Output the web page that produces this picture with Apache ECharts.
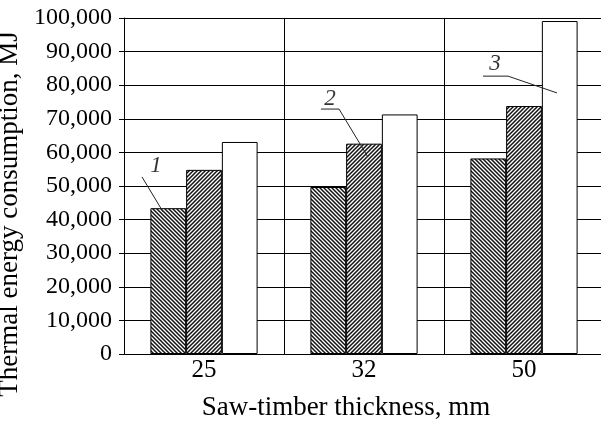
<!DOCTYPE html>
<html><head><meta charset="utf-8">
<script src="https://cdn.jsdelivr.net/npm/echarts@6/dist/echarts.min.js"></script>
<style>html,body{margin:0;padding:0;background:#fff}#c{width:601px;height:421px}</style>
</head><body><div id="c"></div>
<script>
const categories = ['25', '32', '50'];
const series1 = [43400, 49700, 58200];
const series2 = [54800, 62600, 73800];
const series3 = [63100, 71300, 99100];
const yTicks = [0, 10000, 20000, 30000, 40000, 50000, 60000, 70000, 80000, 90000, 100000];
// leader lines for annotations (x in category units 0..3, y in MJ)
const ann1 = [[0.1125, 52700], [0.244, 42300]];
const ann2 = [[1.231, 72900], [1.344, 72900], [1.525, 58600]];
const ann3 = [[2.244, 82700], [2.400, 82700], [2.706, 77700]];
const annLabels = [['1', 0.200, 56000], ['2', 1.2875, 75800], ['3', 2.319, 86300]];

function hatch(dir) {
  const s = 4, c = document.createElement('canvas');
  c.width = s; c.height = s;
  const g = c.getContext('2d');
  g.fillStyle = '#fff'; g.fillRect(0, 0, s, s);
  g.strokeStyle = '#111'; g.lineWidth = 1.5;
  g.beginPath();
  if (dir > 0) { // "\"
    g.moveTo(-1, -1); g.lineTo(s + 1, s + 1);
    g.moveTo(-1, s - 1); g.lineTo(1, s + 1);
    g.moveTo(s - 1, -1); g.lineTo(s + 1, 1);
  } else { // "/"
    g.moveTo(-1, s + 1); g.lineTo(s + 1, -1);
    g.moveTo(-1, 1); g.lineTo(1, -1);
    g.moveTo(s - 1, s + 1); g.lineTo(s + 1, s - 1);
  }
  g.stroke();
  return c;
}

const font = 'Liberation Serif';
function draw() {
const chart = echarts.init(document.getElementById('c'), null, {renderer: 'canvas'});
const lineSeries = (d) => ({
  type: 'line', xAxisIndex: 1, data: d, symbol: 'none', silent: true,
  lineStyle: {color: '#222', width: 1}, z: 10, animation: false
});
chart.setOption({
  animation: false,
  grid: {left: 124, right: -3, top: 18, bottom: 67, outerBoundsMode: 'none', containLabel: false},
  xAxis: [{
    type: 'category', data: categories,
    name: 'Saw-timber thickness, mm', nameLocation: 'middle', nameGap: 40,
    nameTextStyle: {fontFamily: font, fontSize: 27, color: '#000', padding: [0, 36, 0, 0]},
    axisLine: {lineStyle: {color: '#000', width: 1}},
    axisTick: {show: false},
    axisLabel: {fontFamily: font, fontSize: 25, color: '#000', margin: 4},
    splitLine: {show: true, lineStyle: {color: '#000', width: 1}}
  }, {
    type: 'value', min: 0, max: 3, show: false
  }],
  yAxis: {
    type: 'value', min: 0, max: 100000, interval: 10000,
    name: 'Thermal energy consumption, MJ', nameLocation: 'middle', nameGap: 91,
    nameTextStyle: {fontFamily: font, fontSize: 27, color: '#000', padding: [0, 56, 0, 0]},
    axisLine: {show: true, lineStyle: {color: '#000', width: 1}},
    axisTick: {show: true, length: 5, lineStyle: {color: '#000'}},
    axisLabel: {fontFamily: font, fontSize: 24, color: '#000', margin: 12,
      formatter: v => yTicks.includes(v) ? v.toLocaleString('en-US') : ''},
    splitLine: {show: true, lineStyle: {color: '#000', width: 1}}
  },
  series: [
    {type: 'bar', data: series1, barGap: '0%', barCategoryGap: '33%',
      itemStyle: {color: {image: hatch(1), repeat: 'repeat'}, borderColor: '#000', borderWidth: 1}},
    {type: 'bar', data: series2, barGap: '0%', barCategoryGap: '33%',
      itemStyle: {color: {image: hatch(-1), repeat: 'repeat'}, borderColor: '#000', borderWidth: 1}},
    {type: 'bar', data: series3, barGap: '0%', barCategoryGap: '33%',
      itemStyle: {color: '#fff', borderColor: '#000', borderWidth: 1}},
    lineSeries(ann1), lineSeries(ann2), lineSeries(ann3),
    {type: 'scatter', xAxisIndex: 1, symbolSize: 0, silent: true, z: 11,
      data: annLabels.map(a => ({value: [a[1], a[2]], name: a[0]})),
      label: {show: true, position: 'inside', formatter: p => p.name,
        fontFamily: font, fontStyle: 'italic', fontSize: 23, color: '#000'}}
  ]
});
}
if (document.fonts && document.fonts.load) {
  Promise.all([document.fonts.load('24px "Liberation Serif"'), document.fonts.load('italic 24px "Liberation Serif"')])
    .then(draw, draw);
} else draw();
</script></body></html>
